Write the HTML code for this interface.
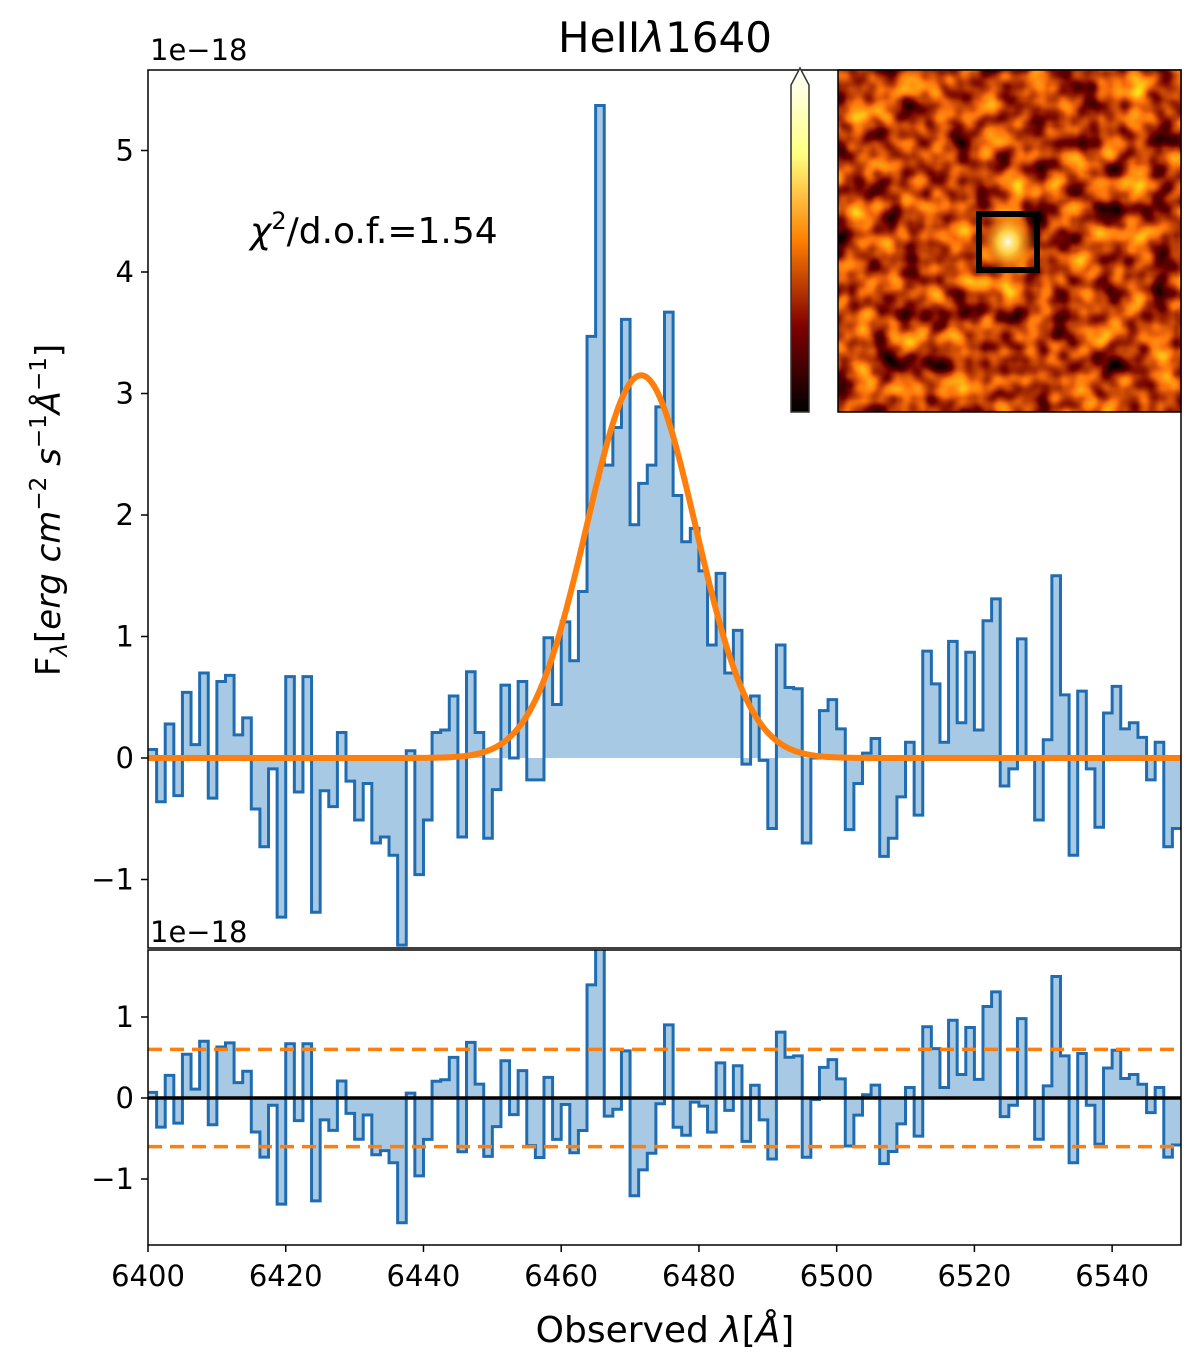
<!DOCTYPE html>
<html><head><meta charset="utf-8"><style>
html,body{margin:0;padding:0;background:#fff;}
svg{display:block;font-family:"DejaVu Sans","Liberation Sans",sans-serif;}
</style></head><body>
<svg id="chart" width="1200" height="1368" viewBox="0 0 1200 1368" xmlns="http://www.w3.org/2000/svg">
<defs>
<clipPath id="clipMain"><rect x="148" y="70" width="1033" height="878"/></clipPath>
<clipPath id="clipRes"><rect x="148" y="950" width="1033" height="295"/></clipPath>
<linearGradient id="afmhot" x1="0" y1="1" x2="0" y2="0">
<stop offset="0" stop-color="#000"/><stop offset="0.25" stop-color="#800000"/>
<stop offset="0.5" stop-color="#ff8000"/><stop offset="0.75" stop-color="#ffff80"/>
<stop offset="1" stop-color="#fff"/></linearGradient>
<filter id="noise" x="838" y="70" width="343" height="342" filterUnits="userSpaceOnUse" color-interpolation-filters="sRGB">
<feTurbulence type="fractalNoise" baseFrequency="0.04" numOctaves="2" seed="11"/>
<feColorMatrix type="matrix" values="2.0 0 0 0 -0.25  1.6 0 0 0 -0.55  0.2 0 0 0 -0.08  0 0 0 0 1"/>
</filter>
<radialGradient id="blob"><stop offset="0" stop-color="#fffbe0"/><stop offset="0.35" stop-color="#ffd040"/><stop offset="0.7" stop-color="#f08010" stop-opacity="0.7"/><stop offset="1" stop-color="#e07010" stop-opacity="0"/></radialGradient>
</defs>
<text x="665" y="52" font-size="42" text-anchor="middle">HeII<tspan font-style="italic">λ</tspan>1640</text>
<text x="150" y="60" font-size="29">1e−18</text>
<text x="150" y="942" font-size="29">1e−18</text>
<text x="250" y="243" font-size="36"><tspan font-style="italic">χ</tspan><tspan font-size="24" dy="-14">2</tspan><tspan dy="14">/d.o.f.=1.54</tspan></text>
<text transform="translate(60,510) rotate(-90)" font-size="34" text-anchor="middle">F<tspan font-size="23" dy="7" font-style="italic">λ</tspan><tspan dy="-7">[</tspan><tspan font-style="italic">erg cm</tspan><tspan font-size="23" dy="-14">−2</tspan><tspan dy="14" font-style="italic"> s</tspan><tspan font-size="23" dy="-14">−1</tspan><tspan dy="14" font-style="italic">Å</tspan><tspan font-size="23" dy="-14">−1</tspan><tspan dy="14">]</tspan></text>
<text x="665" y="1342" font-size="36" text-anchor="middle">Observed <tspan font-style="italic">λ</tspan>[<tspan font-style="italic">Å</tspan>]</text>
<g id="mainG"></g>
<g id="resG"></g>
<g id="axesG"></g>
<g>
<rect x="838" y="70" width="343" height="342" fill="#c0500c"/>
<rect x="838" y="70" width="343" height="342" fill="#fff" filter="url(#noise)"/>
<ellipse cx="1008" cy="242" rx="28" ry="32" fill="url(#blob)"/>
<rect x="979" y="214" width="58" height="56" fill="none" stroke="#000" stroke-width="6"/>
<rect x="838" y="70" width="343" height="342" fill="none" stroke="#000" stroke-width="1.5"/>
</g>
<g>
<path d="M791,85 L800,68 L809,85 L809,412 L791,412 Z" fill="url(#afmhot)" stroke="#333" stroke-width="1.5"/>
</g>
<script>
const binStart = 6400, binWidth = 1.25;
const flux = [0.07,-0.36,0.28,-0.31,0.54,0.11,0.70,-0.33,0.63,0.68,0.19,0.33,-0.42,-0.73,-0.09,-1.31,0.67,-0.28,0.67,-1.27,-0.27,-0.40,0.21,-0.19,-0.51,-0.21,-0.70,-0.65,-0.80,-1.54,0.06,-0.96,
-0.51,0.21,0.23,0.51,-0.65,0.71,0.21,-0.66,-0.26,0.60,0.0,0.63,-0.18,-0.18,0.99,0.44,1.12,0.80,1.37,3.47,5.37,2.41,2.72,3.61,1.92,2.26,2.41,2.89,3.67,2.16,1.78,1.89,1.54,0.93,1.52,0.70,1.05,-0.05,0.51,-0.02,-0.58,0.93,
0.58,0.57,-0.70,0.0,0.39,0.48,0.24,-0.59,-0.21,0.04,0.16,-0.81,-0.66,-0.32,0.13,-0.47,0.88,0.61,0.13,0.96,0.29,0.87,0.23,1.13,1.31,-0.23,-0.09,0.98,0.0,-0.51,0.15,1.50,0.52,-0.80,0.55,-0.09,-0.57,0.37,0.59,0.24,0.29,0.17,-0.18,0.13,-0.73,-0.58];
const modelAmp = [3.15], modelCenter = [6471.6], modelSigma = [7.9];
const xTicks = [6400,6420,6440,6460,6480,6500,6520,6540];
const yTicksMain = [-1,0,1,2,3,4,5];
const yTicksRes = [-1,0,1];
const resBand = [0.6];

const X0=148,X1=1181;
const xs = w => X0 + (w-6400)/150*(X1-X0);
const ym = v => 758 - v*121.5;
const yr = v => 1098 - v*81;
const NS="http://www.w3.org/2000/svg";
function mk(tag, attrs, parent){const e=document.createElementNS(NS,tag);for(const k in attrs)e.setAttribute(k,attrs[k]);parent.appendChild(e);return e;}
const model = w => modelAmp[0]*Math.exp(-0.5*Math.pow((w-modelCenter[0])/modelSigma[0],2));

function drawStairs(parent, vals, ysc, clip, name){
  const g = mk('g',{'clip-path':'url(#'+clip+')'},parent);
  
  
  let line='', fill='M'+xs(binStart)+','+ysc(0);
  vals.forEach((v,i)=>{
    const a=xs(binStart+i*binWidth), b=xs(binStart+(i+1)*binWidth);
    line += (i===0?'M':'L')+a+','+ysc(v)+' L'+b+','+ysc(v)+' ';
    fill += ' L'+a+','+ysc(v)+' L'+b+','+ysc(v);
  });
  fill += ' L'+xs(binStart+vals.length*binWidth)+','+ysc(0)+' Z';
  const f = mk('path',{d:fill,fill:'#a8c9e3',stroke:'none'},g);
  
  
  const l = mk('path',{d:line,fill:'none',stroke:'#1f6cb0','stroke-width':3,'stroke-linejoin':'miter'},g);
  
  
  return g;
}
const mainG=document.getElementById('mainG'), resG=document.getElementById('resG'), axesG=document.getElementById('axesG');
drawStairs(mainG, flux, ym, 'clipMain', 'flux-histogram');
let md='';
for(let k=0;k<=600;k++){const w=6400+k*0.25; md+=(k?'L':'M')+xs(w).toFixed(2)+','+ym(model(w)).toFixed(2)+' ';}
const mp = mk('path',{d:md,fill:'none',stroke:'#ff7f0e','stroke-width':6,'stroke-linejoin':'round','clip-path':'url(#clipMain)'},mainG);


const resid = flux.map((v,i)=>v - model(binStart+(i+0.5)*binWidth));
drawStairs(resG, resid, yr, 'clipRes', 'residual-histogram');
resBand.forEach(b=>{[b,-b].forEach(v=>{
  const d = mk('line',{x1:X0,x2:X1,y1:yr(v),y2:yr(v),stroke:'#ff7f0e','stroke-width':3.5,'stroke-dasharray':'14,8'},resG);
  
  
});});
const zl = mk('line',{x1:X0,x2:X1,y1:yr(0),y2:yr(0),stroke:'#000','stroke-width':3.5},resG);


const f1 = mk('rect',{x:X0,y:70,width:X1-X0,height:878,fill:'none',stroke:'#000','stroke-width':1.5},axesG);


const f2 = mk('rect',{x:X0,y:950,width:X1-X0,height:295,fill:'none',stroke:'#000','stroke-width':1.5},axesG);


yTicksMain.forEach(v=>{
  mk('line',{x1:X0-7,x2:X0,y1:ym(v),y2:ym(v),stroke:'#000','stroke-width':1.5},axesG);
  const t = mk('text',{x:X0-14,y:ym(v)+10,'font-size':29,'text-anchor':'end'},axesG);
  t.textContent = v<0 ? '−'+Math.abs(v) : String(v);
  
  
});
yTicksRes.forEach(v=>{
  mk('line',{x1:X0-7,x2:X0,y1:yr(v),y2:yr(v),stroke:'#000','stroke-width':1.5},axesG);
  const t = mk('text',{x:X0-14,y:yr(v)+10,'font-size':29,'text-anchor':'end'},axesG);
  t.textContent = v<0 ? '−'+Math.abs(v) : String(v);
  
  
});
xTicks.forEach(w=>{
  mk('line',{x1:xs(w),x2:xs(w),y1:1245,y2:1252,stroke:'#000','stroke-width':1.5},axesG);
  const t = mk('text',{x:xs(w),y:1286,'font-size':29,'text-anchor':'middle'},axesG);
  t.textContent = String(w);
  
  
});
</script>
</svg>
</body></html>
